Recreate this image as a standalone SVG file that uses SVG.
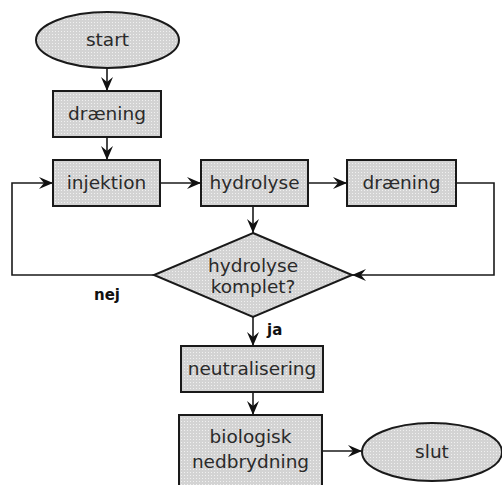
<svg xmlns="http://www.w3.org/2000/svg" width="502" height="485" viewBox="0 0 502 485">
<style>
.n{fill:url(#dots);stroke:#1a1a1a;stroke-width:2}
.t{font-family:"DejaVu Sans",Verdana,sans-serif;font-size:18.5px;fill:#2a2a2a;text-anchor:middle}
.l{font-family:"DejaVu Sans",Verdana,sans-serif;font-size:15px;font-weight:bold;fill:#111}
.c{fill:none;stroke:#1a1a1a;stroke-width:1.6;marker-end:url(#ah)}
</style>
<defs>
<pattern id="dots" width="3" height="3" patternUnits="userSpaceOnUse">
<rect width="3" height="3" fill="#d3d3d3"/>
<rect x="1" y="1" width="1" height="1" fill="#f0f0f0"/>
</pattern>
<marker id="ah" viewBox="0 0 14 12" refX="14" refY="6" markerWidth="14" markerHeight="12" markerUnits="userSpaceOnUse" orient="auto">
<path d="M0,0 L14,6 L0,12 L5,6 Z" fill="#111"/>
</marker>
</defs>
<rect width="502" height="485" fill="#fff"/>
<g id="connectors">
<path class="c" d="M107,68 V91"/>
<path class="c" d="M107,137 V160"/>
<path class="c" d="M160,183 H201"/>
<path class="c" d="M308,183 H347"/>
<path class="c" d="M456,183 H494 V275 H352"/>
<path class="c" d="M253,206 V233"/>
<path class="c" d="M154,275 H12 V183 H53"/>
<path class="c" d="M253,317 V346"/>
<path class="c" d="M253,392 V415"/>
<path class="c" d="M322,451 H362"/>
<text class="l" x="94" y="300">nej</text>
<text class="l" x="267" y="335">ja</text>
</g>
<g id="start"><ellipse class="n" cx="107.5" cy="40" rx="71.5" ry="28"/><text class="t" x="107.5" y="46">start</text></g>
<g id="draening1"><rect class="n" x="53" y="91" width="108" height="46"/><text class="t" x="107" y="120">dræning</text></g>
<g id="injektion"><rect class="n" x="53" y="160" width="107" height="46"/><text class="t" x="106.5" y="189">injektion</text></g>
<g id="hydrolyse"><rect class="n" x="201" y="160" width="107" height="46"/><text class="t" x="254.5" y="189">hydrolyse</text></g>
<g id="draening2"><rect class="n" x="347" y="160" width="109" height="46"/><text class="t" x="401.5" y="189">dræning</text></g>
<g id="komplet"><polygon class="n" points="253,233 352,275 253,317 154,275"/><text class="t" x="253" y="272">hydrolyse</text><text class="t" x="253" y="293">komplet?</text></g>
<g id="neutralisering"><rect class="n" x="181" y="346" width="142" height="46"/><text class="t" x="252" y="375">neutralisering</text></g>
<g id="biologisk"><rect class="n" x="179" y="415" width="143" height="80"/><text class="t" x="250.5" y="443">biologisk</text><text class="t" x="250.5" y="468">nedbrydning</text></g>
<g id="slut"><ellipse class="n" cx="432" cy="452" rx="70" ry="29"/><text class="t" x="432" y="458">slut</text></g>
</svg>
